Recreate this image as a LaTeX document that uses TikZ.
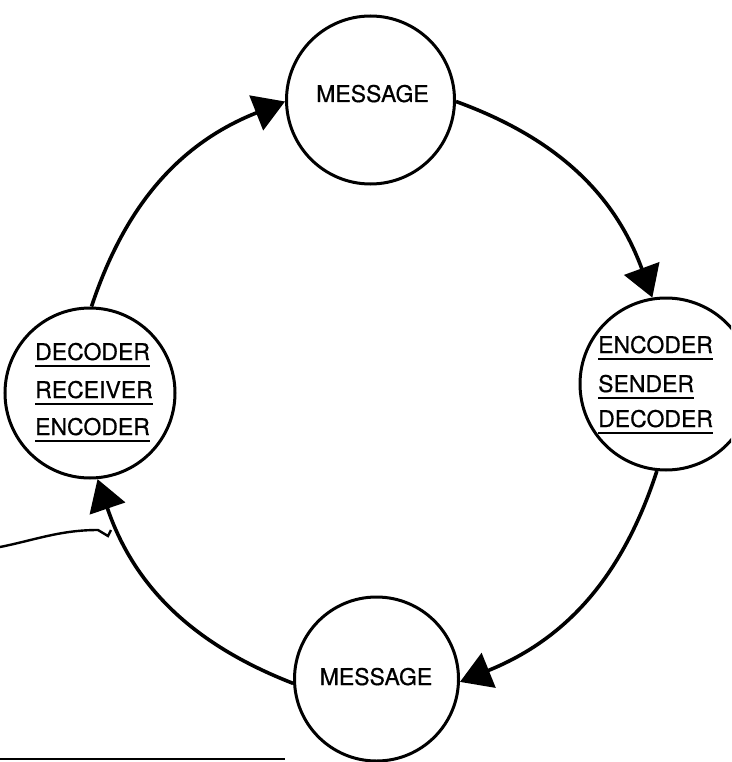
\documentclass[tikz,border=0pt]{standalone}
\usepackage{fontspec}
\setmainfont{TeX Gyre Heros}
\newfontfamily\lblfont{TeX Gyre Heros}[FakeBold=0.6]
\usetikzlibrary{arrows.meta}
\begin{document}
\begin{tikzpicture}[x=1pt,y=-1pt,
  circ/.style={circle,draw,line width=3pt,minimum size=168pt,inner sep=0pt},
  lbl/.style={inner sep=0pt,font=\lblfont\fontsize{23}{27}\selectfont},
  flow/.style={line width=3.6pt,-{Triangle[length=31pt,width=37pt]},bend left=25},
  uline/.style={line width=2.6pt}]
\useasboundingbox (0,0) rectangle (731,762);
\clip (0,0) rectangle (731,762);
% circles
\node[circ] (top) at (370.5,100) {};
\node[circ,minimum size=172pt] (right) at (666,384) {};
\node[circ,minimum size=164pt] (bottom) at (376.5,679) {};
\node[circ,minimum size=170pt] (left) at (90,393) {};
% texts
\node[lbl,anchor=base] (m1) at (372.5,102) {MESSAGE};
\node[lbl,anchor=base] (m2) at (376,685) {MESSAGE};
\node[lbl,anchor=base west] (r1) at (598,353) {ENCODER};
\node[lbl,anchor=base west] (r2) at (598,392) {SENDER};
\node[lbl,anchor=base west] (r3) at (598,427) {DECODER};
\node[lbl,anchor=base west] (l1) at (35,360) {DECODER};
\node[lbl,anchor=base west] (l2) at (35,398) {RECEIVER};
\node[lbl,anchor=base west] (l3) at (35,435) {ENCODER};
\foreach \n in {r1,r2,r3,l1,l2,l3}
  \draw[uline] ([yshift=-6pt]\n.base west) -- ([yshift=-6pt]\n.base east);
% connectors
\draw[flow] (top.-1) to (right.99);
\draw[flow] (right.-96) to (bottom.-2);
\draw[flow] (bottom.183) to (left.-85);
\draw[flow] (left.89) to (top.181);
% scan marks
\draw[line width=2.4pt] (0,547) .. controls (35,540) and (60,530) .. (98,530) -- (108,536) -- (111,530);
\draw[line width=1.5pt] (0,759) -- (285,759);
\end{tikzpicture}
\end{document}
